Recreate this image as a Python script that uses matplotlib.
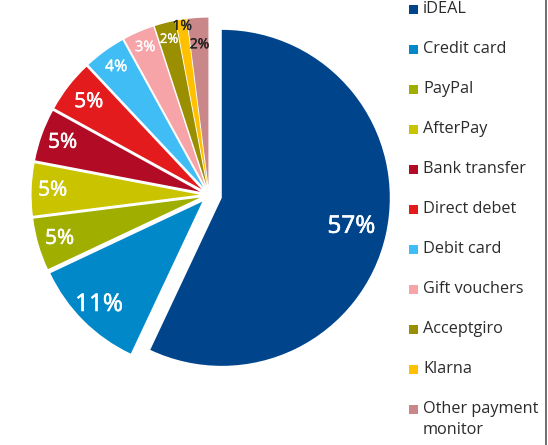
import numpy as np
import matplotlib
matplotlib.use("Agg")
import matplotlib.pyplot as plt
import matplotlib.patheffects as pe
from matplotlib.patches import Rectangle

plt.rcParams['font.family'] = ['Open Sans', 'DejaVu Sans']

# payment methods, clockwise from the top
methods = ['iDEAL', 'Credit card', 'PayPal', 'AfterPay', 'Bank transfer',
           'Direct debet', 'Debit card', 'Gift vouchers', 'Acceptgiro',
           'Klarna', 'Other payment\nmonitor']
shares = [57, 11, 5, 5, 5, 5, 4, 3, 2, 1, 2]
pct_labels = ['57%', '11%', '5%', '5%', '5%', '5%', '4%', '3%', '2%', '1%', '2%']

colors = ['#00448b', '#0088c9', '#a0ae00', '#c9c300', '#b20b25', '#e31b1d',
          '#40bdf4', '#f6a4a8', '#9a8f00', '#ffc000', '#c9878a']
label_dist = [0.79, 0.87, 0.87, 0.875, 0.87, 0.85, 0.885, 0.90, 0.90, 0.96, 0.84]
label_size = [17.5, 17.5, 15, 15, 15, 15, 11.5, 10.5, 9.5, 10, 10]
label_col = ['white'] * 9 + ['#222222', '#222222']
explode = [0.078] + [0.056] * 10

W, H = 548, 445
R = 168.0          # pie radius in pixels
cx, cy = 209, 195  # pie centre in pixels (from top-left)

fig = plt.figure(figsize=(W / 100, H / 100), dpi=100)
ax = fig.add_axes([0, 0, 1, 1])
wedges, _ = ax.pie(shares, colors=colors, startangle=90, counterclock=False,
                   explode=explode, radius=1.0)
ax.set_xlim(-cx / R, (W - cx) / R)
ax.set_ylim(-(H - cy) / R, cy / R)
ax.axis('off')

for w, txt, d, s, c in zip(wedges, pct_labels, label_dist, label_size, label_col):
    mid = np.deg2rad((w.theta1 + w.theta2) / 2)
    x0, y0 = w.center
    # thin stroke to get a medium weight
    ax.text(x0 + d * np.cos(mid), y0 + d * np.sin(mid), txt, color=c,
            fontsize=s, ha='center', va='center',
            path_effects=[pe.withStroke(linewidth=0.025 * s, foreground=c)])

# legend drawn in pixel coordinates
lax = fig.add_axes([0, 0, 1, 1], facecolor='none')
lax.set_xlim(0, W)
lax.set_ylim(H, 0)
lax.axis('off')
for i, (name, c) in enumerate(zip(methods, colors)):
    y = 9 + 40 * i
    lax.add_patch(Rectangle((408.5, y - 4.5), 9, 9, color=c, lw=0))
    for k, line in enumerate(name.split('\n')):
        lax.text(423, y + 21 * k, line, fontsize=11.7, color='#2b2b2b',
                 ha='left', va='center')

lax.plot([546, 546], [0, H], color='#555555', lw=1.2)

fig.savefig('out.png', dpi=100)
